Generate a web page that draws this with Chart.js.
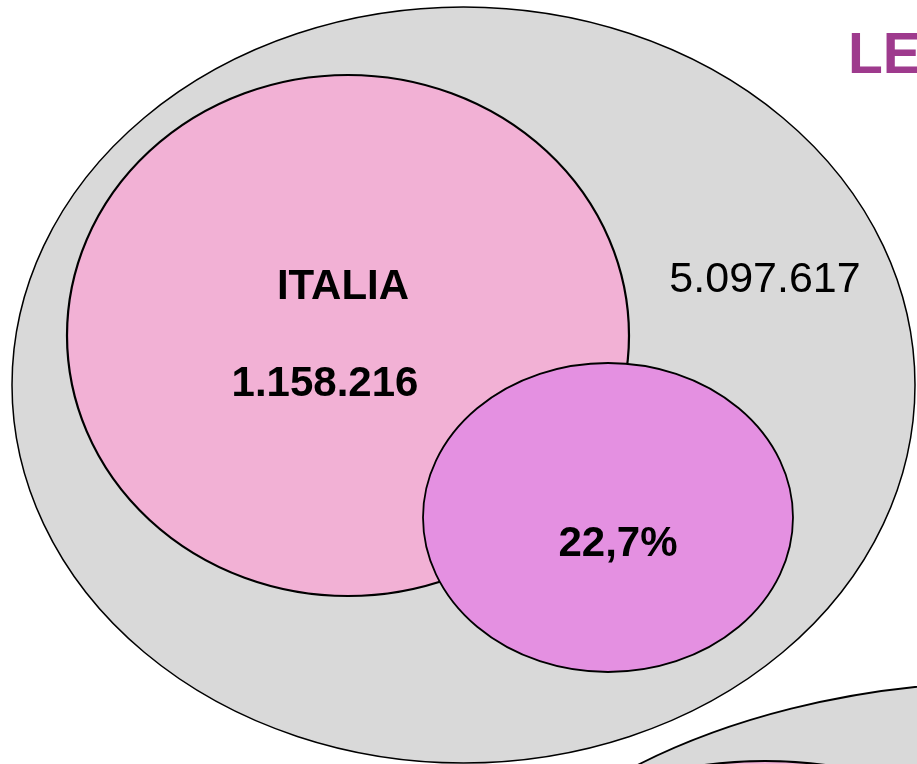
<!DOCTYPE html>
<html>
<head>
<meta charset="utf-8">
<script src="https://cdn.jsdelivr.net/npm/chart.js@4/dist/chart.umd.min.js"></script>
<style>
  html, body { margin: 0; padding: 0; background: #ffffff; overflow: hidden; }
  #wrap { width: 917px; height: 764px; }
</style>
</head>
<body>
<div id="wrap"><canvas id="c" width="917" height="764"></canvas></div>
<script>
// Figures shown in the diagram
const titleText = 'LE';
const totalValue = 5097617;      // whole population (grey set)
const italiaLabel = 'ITALIA';
const italiaValue = 1158216;     // Italian subset (pink set)
const sharePercent = 22.7;       // overlap share (violet set)

// Set outlines in plot units (x: 0..917, y: 0..764 from the top)
const setNames   = ['totale', 'italia', 'quota', 'totale2', 'italia2'];
const setCx      = [463.5, 348, 608, 1012, 765];
const setCy      = [385, 335.5, 517.5, 1062, 1021];
const setRx      = [451.5, 281, 185, 600, 340];
const setRy      = [378, 260.5, 154.5, 380, 260];
const setFill    = ['#d9d9d9', '#f2b1d5', '#e490e1', '#d9d9d9', '#f2b1d5'];
const setStroke  = [1.5, 2.2, 1.8, 1.8, 2.2];

function fmtIt(n, decimals) {
  const fixed = n.toFixed(decimals || 0);
  const parts = fixed.split('.');
  const intPart = parts[0].replace(/\B(?=(\d{3})+(?!\d))/g, '.');
  return parts.length > 1 ? intPart + ',' + parts[1] : intPart;
}

const vennPlugin = {
  id: 'venn',
  beforeDatasetsDraw(chart) {
    const ctx = chart.ctx;
    const xs = chart.scales.x, ys = chart.scales.y;
    ctx.save();
    for (let i = 0; i < setNames.length; i++) {
      const px = xs.getPixelForValue(setCx[i]);
      const py = ys.getPixelForValue(setCy[i]);
      const prx = Math.abs(xs.getPixelForValue(setCx[i] + setRx[i]) - px);
      const pry = Math.abs(ys.getPixelForValue(setCy[i] + setRy[i]) - py);
      ctx.beginPath();
      ctx.ellipse(px, py, prx, pry, 0, 0, Math.PI * 2);
      ctx.fillStyle = setFill[i];
      ctx.fill();
      ctx.lineWidth = setStroke[i];
      ctx.strokeStyle = '#000000';
      ctx.stroke();
    }

    const put = (text, x, y, font, color, align) => {
      ctx.font = font;
      ctx.fillStyle = color;
      ctx.textAlign = align || 'center';
      ctx.textBaseline = 'alphabetic';
      ctx.fillText(text, xs.getPixelForValue(x), ys.getPixelForValue(y));
    };
    const bold = 'bold 42px "Liberation Sans", Arial, sans-serif';
    put(italiaLabel, 343, 299, bold, '#000000');
    put(fmtIt(italiaValue), 325, 396, bold, '#000000');
    put(fmtIt(totalValue), 765, 292, '43px "Liberation Sans", Arial, sans-serif', '#000000');
    put(fmtIt(sharePercent, 1) + '%', 618, 556, bold, '#000000');
    put(titleText, 848, 73, 'bold 57px "Liberation Sans", Arial, sans-serif', '#9e3a8d', 'left');
    ctx.restore();
  }
};

new Chart(document.getElementById('c'), {
  type: 'scatter',
  data: {
    datasets: [{
      label: 'insiemi',
      data: setNames.map((n, i) => ({ x: setCx[i], y: setCy[i] })),
      pointRadius: 0,
      pointHoverRadius: 0
    }]
  },
  options: {
    responsive: false,
    animation: false,
    devicePixelRatio: 1,
    layout: { padding: 0 },
    plugins: { legend: { display: false }, tooltip: { enabled: false } },
    events: [],
    scales: {
      x: { type: 'linear', min: 0, max: 917, display: false },
      y: { type: 'linear', min: 0, max: 764, reverse: true, display: false }
    }
  },
  plugins: [vennPlugin]
});
</script>
</body>
</html>
